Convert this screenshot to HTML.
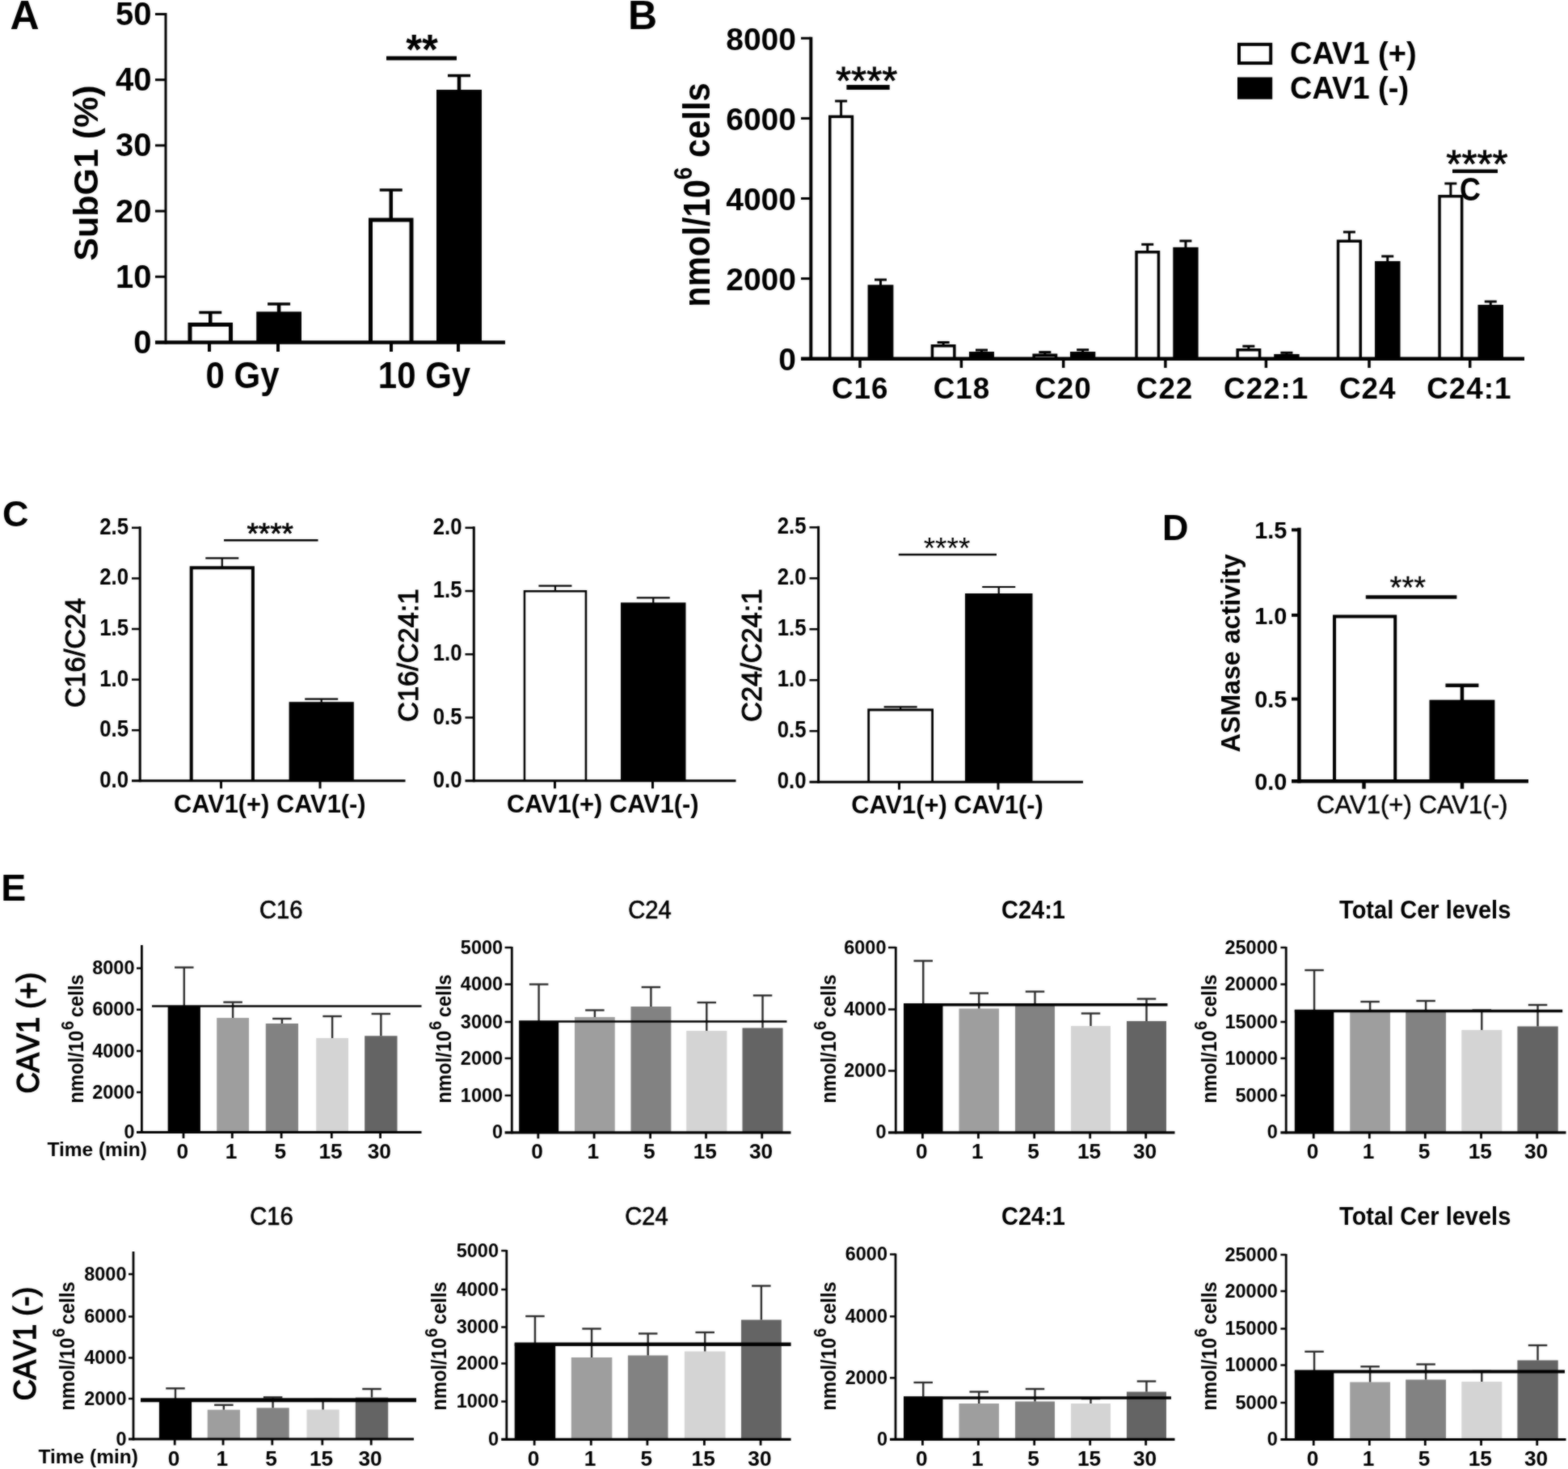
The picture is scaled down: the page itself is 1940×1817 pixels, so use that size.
<!DOCTYPE html>
<html lang="en">
<head>
<meta charset="utf-8">
<title>Figure</title>
<style>
html,body{margin:0;padding:0;background:#fff;}
body{width:1940px;height:1817px;overflow:hidden;}
svg{display:block;font-family:'Liberation Sans', sans-serif;}
</style>
</head>
<body>
<svg width="1940" height="1817" viewBox="0 0 1940 1817" font-family="'Liberation Sans', sans-serif">
<defs><filter id="soft" x="0" y="0" width="1940" height="1817" filterUnits="userSpaceOnUse" color-interpolation-filters="sRGB"><feGaussianBlur in="SourceGraphic" stdDeviation="0.8" result="b"/><feComposite in="SourceGraphic" in2="b" operator="arithmetic" k1="0" k2="0.45" k3="0.55" k4="0"/></filter></defs>
<g filter="url(#soft)">
<rect x="0" y="0" width="1940" height="1817" fill="#ffffff"/>
<text x="12.5" y="36" font-size="50" font-weight="bold" text-anchor="start" fill="#000">A</text>
<text x="777" y="36" font-size="50" font-weight="bold" text-anchor="start" fill="#000">B</text>
<text x="3" y="650.7" font-size="45" font-weight="bold" text-anchor="start" fill="#000">C</text>
<text x="1438" y="668" font-size="45" font-weight="bold" text-anchor="start" fill="#000">D</text>
<text x="1.3" y="1113.6" font-size="46.5" font-weight="bold" text-anchor="start" fill="#000">E</text>
<line x1="260.25" y1="386.5" x2="260.25" y2="401" stroke="#000" stroke-width="4.5" stroke-linecap="butt"/>
<line x1="246.25" y1="386.5" x2="274.25" y2="386.5" stroke="#000" stroke-width="3.5" stroke-linecap="butt"/>
<path d="M235.00 423.5V401.50H285.50V423.5" fill="#fff" stroke="#000" stroke-width="5" stroke-linejoin="miter"/>
<line x1="345.1" y1="376" x2="345.1" y2="387.5" stroke="#000" stroke-width="4.5" stroke-linecap="butt"/>
<line x1="331.1" y1="376" x2="359.1" y2="376" stroke="#000" stroke-width="3.5" stroke-linecap="butt"/>
<rect x="317.2" y="385.5" width="55.80000000000001" height="38.0" fill="#000"/>
<line x1="483.75" y1="235" x2="483.75" y2="271.5" stroke="#000" stroke-width="4.5" stroke-linecap="butt"/>
<line x1="469.75" y1="235" x2="497.75" y2="235" stroke="#000" stroke-width="3.5" stroke-linecap="butt"/>
<path d="M458.50 423.5V272.00H509.00V423.5" fill="#fff" stroke="#000" stroke-width="5" stroke-linejoin="miter"/>
<line x1="568.0" y1="93.5" x2="568.0" y2="113" stroke="#000" stroke-width="4.5" stroke-linecap="butt"/>
<line x1="554.0" y1="93.5" x2="582.0" y2="93.5" stroke="#000" stroke-width="3.5" stroke-linecap="butt"/>
<rect x="540" y="111" width="56" height="312.5" fill="#000"/>
<line x1="205" y1="16.0" x2="205" y2="425.5" stroke="#000" stroke-width="3" stroke-linecap="butt"/>
<line x1="192" y1="423.5" x2="625" y2="423.5" stroke="#000" stroke-width="4.5" stroke-linecap="butt"/>
<line x1="192" y1="17.5" x2="205" y2="17.5" stroke="#000" stroke-width="3" stroke-linecap="butt"/>
<text x="187.5" y="31.0" font-size="40" font-weight="bold" text-anchor="end" fill="#000">50</text>
<line x1="192" y1="98.7" x2="205" y2="98.7" stroke="#000" stroke-width="3" stroke-linecap="butt"/>
<text x="187.5" y="112.2" font-size="40" font-weight="bold" text-anchor="end" fill="#000">40</text>
<line x1="192" y1="179.9" x2="205" y2="179.9" stroke="#000" stroke-width="3" stroke-linecap="butt"/>
<text x="187.5" y="193.4" font-size="40" font-weight="bold" text-anchor="end" fill="#000">30</text>
<line x1="192" y1="261.1" x2="205" y2="261.1" stroke="#000" stroke-width="3" stroke-linecap="butt"/>
<text x="187.5" y="274.6" font-size="40" font-weight="bold" text-anchor="end" fill="#000">20</text>
<line x1="192" y1="342.3" x2="205" y2="342.3" stroke="#000" stroke-width="3" stroke-linecap="butt"/>
<text x="187.5" y="355.8" font-size="40" font-weight="bold" text-anchor="end" fill="#000">10</text>
<text x="187.5" y="437.0" font-size="40" font-weight="bold" text-anchor="end" fill="#000">0</text>
<line x1="259" y1="423.5" x2="259" y2="435" stroke="#000" stroke-width="4" stroke-linecap="butt"/>
<line x1="344" y1="423.5" x2="344" y2="435" stroke="#000" stroke-width="4" stroke-linecap="butt"/>
<line x1="484" y1="423.5" x2="484" y2="435" stroke="#000" stroke-width="4" stroke-linecap="butt"/>
<line x1="567" y1="423.5" x2="567" y2="435" stroke="#000" stroke-width="4" stroke-linecap="butt"/>
<text font-size="42" font-weight="bold" text-anchor="middle" fill="#000" transform="translate(300 480) scale(1 1.1)">0 Gy</text>
<text font-size="42" font-weight="bold" text-anchor="middle" fill="#000" transform="translate(525 480) scale(1 1.1)">10 Gy</text>
<text font-size="43" font-weight="bold" text-anchor="middle" fill="#000" transform="translate(120.5 214) rotate(-90)">SubG1 (%)</text>
<line x1="478" y1="72" x2="565" y2="72" stroke="#000" stroke-width="5" stroke-linecap="butt"/>
<text x="522" y="78.5" font-size="51" font-weight="bold" text-anchor="middle" fill="#000">**</text>
<line x1="1040.6" y1="125" x2="1040.6" y2="143.4" stroke="#000" stroke-width="3" stroke-linecap="butt"/>
<line x1="1033.1" y1="125" x2="1048.1" y2="125" stroke="#000" stroke-width="3" stroke-linecap="butt"/>
<path d="M1026.75 443.7V144.15H1054.45V443.7" fill="#fff" stroke="#000" stroke-width="3.5" stroke-linejoin="miter"/>
<line x1="1089.5" y1="346" x2="1089.5" y2="353.3" stroke="#000" stroke-width="3" stroke-linecap="butt"/>
<line x1="1082.0" y1="346" x2="1097.0" y2="346" stroke="#000" stroke-width="3" stroke-linecap="butt"/>
<rect x="1073.6" y="352.3" width="31.800000000000182" height="91.39999999999998" fill="#000"/>
<line x1="1167.15" y1="423.5" x2="1167.15" y2="427" stroke="#000" stroke-width="3" stroke-linecap="butt"/>
<line x1="1159.65" y1="423.5" x2="1174.65" y2="423.5" stroke="#000" stroke-width="3" stroke-linecap="butt"/>
<path d="M1153.45 443.7V427.75H1180.85V443.7" fill="#fff" stroke="#000" stroke-width="3.5" stroke-linejoin="miter"/>
<line x1="1214.5" y1="433" x2="1214.5" y2="436" stroke="#000" stroke-width="3" stroke-linecap="butt"/>
<line x1="1207.0" y1="433" x2="1222.0" y2="433" stroke="#000" stroke-width="3" stroke-linecap="butt"/>
<rect x="1199" y="435" width="31" height="8.699999999999989" fill="#000"/>
<line x1="1292.85" y1="435.6" x2="1292.85" y2="438.4" stroke="#000" stroke-width="3" stroke-linecap="butt"/>
<line x1="1285.35" y1="435.6" x2="1300.35" y2="435.6" stroke="#000" stroke-width="3" stroke-linecap="butt"/>
<path d="M1279.15 443.7V439.15H1306.55V443.7" fill="#fff" stroke="#000" stroke-width="3.5" stroke-linejoin="miter"/>
<line x1="1339.65" y1="432.7" x2="1339.65" y2="436" stroke="#000" stroke-width="3" stroke-linecap="butt"/>
<line x1="1332.15" y1="432.7" x2="1347.15" y2="432.7" stroke="#000" stroke-width="3" stroke-linecap="butt"/>
<rect x="1324" y="435" width="31.299999999999955" height="8.699999999999989" fill="#000"/>
<line x1="1419.75" y1="302.3" x2="1419.75" y2="311" stroke="#000" stroke-width="3" stroke-linecap="butt"/>
<line x1="1412.25" y1="302.3" x2="1427.25" y2="302.3" stroke="#000" stroke-width="3" stroke-linecap="butt"/>
<path d="M1406.05 443.7V311.75H1433.45V443.7" fill="#fff" stroke="#000" stroke-width="3.5" stroke-linejoin="miter"/>
<line x1="1466.9499999999998" y1="298" x2="1466.9499999999998" y2="306.8" stroke="#000" stroke-width="3" stroke-linecap="butt"/>
<line x1="1459.4499999999998" y1="298" x2="1474.4499999999998" y2="298" stroke="#000" stroke-width="3" stroke-linecap="butt"/>
<rect x="1451.3" y="305.8" width="31.299999999999955" height="137.89999999999998" fill="#000"/>
<line x1="1544.85" y1="428.2" x2="1544.85" y2="432" stroke="#000" stroke-width="3" stroke-linecap="butt"/>
<line x1="1537.35" y1="428.2" x2="1552.35" y2="428.2" stroke="#000" stroke-width="3" stroke-linecap="butt"/>
<path d="M1531.15 443.7V432.75H1558.55V443.7" fill="#fff" stroke="#000" stroke-width="3.5" stroke-linejoin="miter"/>
<line x1="1591.9" y1="436.3" x2="1591.9" y2="439" stroke="#000" stroke-width="3" stroke-linecap="butt"/>
<line x1="1584.4" y1="436.3" x2="1599.4" y2="436.3" stroke="#000" stroke-width="3" stroke-linecap="butt"/>
<rect x="1576.2" y="438" width="31.399999999999864" height="5.699999999999989" fill="#000"/>
<line x1="1669.4" y1="287" x2="1669.4" y2="297.5" stroke="#000" stroke-width="3" stroke-linecap="butt"/>
<line x1="1661.9" y1="287" x2="1676.9" y2="287" stroke="#000" stroke-width="3" stroke-linecap="butt"/>
<path d="M1655.55 443.7V298.25H1683.25V443.7" fill="#fff" stroke="#000" stroke-width="3.5" stroke-linejoin="miter"/>
<line x1="1716.75" y1="317" x2="1716.75" y2="324" stroke="#000" stroke-width="3" stroke-linecap="butt"/>
<line x1="1709.25" y1="317" x2="1724.25" y2="317" stroke="#000" stroke-width="3" stroke-linecap="butt"/>
<rect x="1701" y="323" width="31.5" height="120.69999999999999" fill="#000"/>
<line x1="1794.85" y1="227" x2="1794.85" y2="242" stroke="#000" stroke-width="3" stroke-linecap="butt"/>
<line x1="1787.35" y1="227" x2="1802.35" y2="227" stroke="#000" stroke-width="3" stroke-linecap="butt"/>
<path d="M1781.05 443.7V242.75H1808.65V443.7" fill="#fff" stroke="#000" stroke-width="3.5" stroke-linejoin="miter"/>
<line x1="1844.25" y1="373" x2="1844.25" y2="378" stroke="#000" stroke-width="3" stroke-linecap="butt"/>
<line x1="1836.75" y1="373" x2="1851.75" y2="373" stroke="#000" stroke-width="3" stroke-linecap="butt"/>
<rect x="1828.5" y="377" width="31.5" height="66.69999999999999" fill="#000"/>
<line x1="1003.3" y1="45.8" x2="1003.3" y2="445.7" stroke="#000" stroke-width="4" stroke-linecap="butt"/>
<line x1="991" y1="443.7" x2="1886" y2="443.7" stroke="#000" stroke-width="4.5" stroke-linecap="butt"/>
<line x1="991" y1="47.3" x2="1003.3" y2="47.3" stroke="#000" stroke-width="3" stroke-linecap="butt"/>
<text x="985" y="61.599999999999994" font-size="39" font-weight="bold" text-anchor="end" fill="#000">8000</text>
<line x1="991" y1="146.39999999999998" x2="1003.3" y2="146.39999999999998" stroke="#000" stroke-width="3" stroke-linecap="butt"/>
<text x="985" y="160.7" font-size="39" font-weight="bold" text-anchor="end" fill="#000">6000</text>
<line x1="991" y1="245.5" x2="1003.3" y2="245.5" stroke="#000" stroke-width="3" stroke-linecap="butt"/>
<text x="985" y="259.8" font-size="39" font-weight="bold" text-anchor="end" fill="#000">4000</text>
<line x1="991" y1="344.59999999999997" x2="1003.3" y2="344.59999999999997" stroke="#000" stroke-width="3" stroke-linecap="butt"/>
<text x="985" y="358.9" font-size="39" font-weight="bold" text-anchor="end" fill="#000">2000</text>
<text x="985" y="458.0" font-size="39" font-weight="bold" text-anchor="end" fill="#000">0</text>
<line x1="1064" y1="443.7" x2="1064" y2="455" stroke="#000" stroke-width="3.5" stroke-linecap="butt"/>
<line x1="1189.4" y1="443.7" x2="1189.4" y2="455" stroke="#000" stroke-width="3.5" stroke-linecap="butt"/>
<line x1="1315.7" y1="443.7" x2="1315.7" y2="455" stroke="#000" stroke-width="3.5" stroke-linecap="butt"/>
<line x1="1441.9" y1="443.7" x2="1441.9" y2="455" stroke="#000" stroke-width="3.5" stroke-linecap="butt"/>
<line x1="1566.4" y1="443.7" x2="1566.4" y2="455" stroke="#000" stroke-width="3.5" stroke-linecap="butt"/>
<line x1="1694" y1="443.7" x2="1694" y2="455" stroke="#000" stroke-width="3.5" stroke-linecap="butt"/>
<line x1="1818.7" y1="443.7" x2="1818.7" y2="455" stroke="#000" stroke-width="3.5" stroke-linecap="butt"/>
<text x="1064.3" y="493" font-size="36.8" font-weight="bold" text-anchor="middle" fill="#000" letter-spacing="1">C16</text>
<text x="1189.8999999999999" y="493" font-size="36.8" font-weight="bold" text-anchor="middle" fill="#000" letter-spacing="1">C18</text>
<text x="1315.5" y="493" font-size="36.8" font-weight="bold" text-anchor="middle" fill="#000" letter-spacing="1">C20</text>
<text x="1441.1" y="493" font-size="36.8" font-weight="bold" text-anchor="middle" fill="#000" letter-spacing="1">C22</text>
<text x="1566.6999999999998" y="493" font-size="36.8" font-weight="bold" text-anchor="middle" fill="#000" letter-spacing="1">C22:1</text>
<text x="1692.3" y="493" font-size="36.8" font-weight="bold" text-anchor="middle" fill="#000" letter-spacing="1">C24</text>
<text x="1817.8999999999999" y="493" font-size="36.8" font-weight="bold" text-anchor="middle" fill="#000" letter-spacing="1">C24:1</text>
<text font-size="41.7" font-weight="bold" text-anchor="middle" fill="#000" transform="translate(878 241) rotate(-90) scale(1 1.12)">nmol/10<tspan font-size="28" dy="-20">6</tspan><tspan dy="20"> cells</tspan></text>
<rect x="1533" y="54.9" width="39.2" height="23.2" fill="#fff" stroke="#000" stroke-width="4"/>
<rect x="1531" y="95.5" width="43.2" height="27.2" fill="#000"/>
<text x="1596" y="78.5" font-size="38" font-weight="bold" text-anchor="start" fill="#000">CAV1 (+)</text>
<text x="1596" y="121.5" font-size="38" font-weight="bold" text-anchor="start" fill="#000">CAV1 (-)</text>
<line x1="1047.4" y1="108" x2="1100.7" y2="108" stroke="#000" stroke-width="6" stroke-linecap="butt"/>
<text x="1072.2" y="115.5" font-size="49" font-weight="normal" text-anchor="middle" fill="#000" stroke="#000" stroke-width="0.8">****</text>
<line x1="1797" y1="211.7" x2="1853" y2="211.7" stroke="#000" stroke-width="4.5" stroke-linecap="butt"/>
<text x="1827.5" y="219" font-size="49" font-weight="normal" text-anchor="middle" fill="#000" stroke="#000" stroke-width="0.8">****</text>
<text font-size="36" font-weight="bold" text-anchor="start" fill="#000" transform="translate(1806 248) scale(1 1.15)">C</text>
<line x1="274.79999999999995" y1="690.4" x2="274.79999999999995" y2="701.3" stroke="#000" stroke-width="2.2" stroke-linecap="butt"/>
<line x1="254.29999999999995" y1="690.4" x2="295.29999999999995" y2="690.4" stroke="#000" stroke-width="2.2" stroke-linecap="butt"/>
<path d="M236.70 965.8V702.30H312.90V965.8" fill="#fff" stroke="#000" stroke-width="4" stroke-linejoin="miter"/>
<line x1="397.70000000000005" y1="864.7" x2="397.70000000000005" y2="869.2" stroke="#000" stroke-width="2.2" stroke-linecap="butt"/>
<line x1="377.20000000000005" y1="864.7" x2="418.20000000000005" y2="864.7" stroke="#000" stroke-width="2.2" stroke-linecap="butt"/>
<rect x="357.6" y="868.2" width="80.19999999999999" height="97.59999999999991" fill="#000"/>
<line x1="173.2" y1="651.3" x2="173.2" y2="967.3" stroke="#000" stroke-width="3" stroke-linecap="butt"/>
<line x1="163" y1="965.8" x2="501.5" y2="965.8" stroke="#000" stroke-width="3" stroke-linecap="butt"/>
<line x1="163" y1="652.8" x2="173.2" y2="652.8" stroke="#000" stroke-width="2.5" stroke-linecap="butt"/>
<text font-size="30.3" font-weight="bold" text-anchor="end" fill="#000" transform="translate(159 660.8) scale(0.85 1)">2.5</text>
<line x1="163" y1="715.4" x2="173.2" y2="715.4" stroke="#000" stroke-width="2.5" stroke-linecap="butt"/>
<text font-size="30.3" font-weight="bold" text-anchor="end" fill="#000" transform="translate(159 723.4) scale(0.85 1)">2.0</text>
<line x1="163" y1="778.0" x2="173.2" y2="778.0" stroke="#000" stroke-width="2.5" stroke-linecap="butt"/>
<text font-size="30.3" font-weight="bold" text-anchor="end" fill="#000" transform="translate(159 786.0) scale(0.85 1)">1.5</text>
<line x1="163" y1="840.5999999999999" x2="173.2" y2="840.5999999999999" stroke="#000" stroke-width="2.5" stroke-linecap="butt"/>
<text font-size="30.3" font-weight="bold" text-anchor="end" fill="#000" transform="translate(159 848.5999999999999) scale(0.85 1)">1.0</text>
<line x1="163" y1="903.1999999999999" x2="173.2" y2="903.1999999999999" stroke="#000" stroke-width="2.5" stroke-linecap="butt"/>
<text font-size="30.3" font-weight="bold" text-anchor="end" fill="#000" transform="translate(159 911.1999999999999) scale(0.85 1)">0.5</text>
<text font-size="30.3" font-weight="bold" text-anchor="end" fill="#000" transform="translate(159 973.8) scale(0.85 1)">0.0</text>
<line x1="273.5" y1="965.8" x2="273.5" y2="975.3" stroke="#000" stroke-width="3" stroke-linecap="butt"/>
<line x1="396" y1="965.8" x2="396" y2="975.3" stroke="#000" stroke-width="3" stroke-linecap="butt"/>
<text x="215" y="1005" font-size="30.8" font-weight="bold" text-anchor="start" fill="#000">CAV1(+) CAV1(-)</text>
<text font-size="34.4" font-weight="normal" text-anchor="middle" fill="#000" transform="translate(105 807.5) rotate(-90)" stroke="#000" stroke-width="1.0">C16/C24</text>
<line x1="277" y1="668.2" x2="393.5" y2="668.2" stroke="#000" stroke-width="2.6" stroke-linecap="butt"/>
<text x="334.2" y="673" font-size="37" font-weight="normal" text-anchor="middle" fill="#000" stroke="#000" stroke-width="0.7">****</text>
<line x1="686.95" y1="724.7" x2="686.95" y2="731" stroke="#000" stroke-width="2.2" stroke-linecap="butt"/>
<line x1="666.45" y1="724.7" x2="707.45" y2="724.7" stroke="#000" stroke-width="2.2" stroke-linecap="butt"/>
<path d="M648.95 965.8V731.25H724.95V965.8" fill="#fff" stroke="#000" stroke-width="2.5" stroke-linejoin="miter"/>
<line x1="808.25" y1="739.3" x2="808.25" y2="746.3" stroke="#000" stroke-width="2.2" stroke-linecap="butt"/>
<line x1="787.75" y1="739.3" x2="828.75" y2="739.3" stroke="#000" stroke-width="2.2" stroke-linecap="butt"/>
<rect x="768" y="745.3" width="80.5" height="220.5" fill="#000"/>
<line x1="586.3" y1="651.3" x2="586.3" y2="967.3" stroke="#000" stroke-width="3" stroke-linecap="butt"/>
<line x1="575.5" y1="965.8" x2="910.5" y2="965.8" stroke="#000" stroke-width="3" stroke-linecap="butt"/>
<line x1="575.5" y1="652.8" x2="586.3" y2="652.8" stroke="#000" stroke-width="2.5" stroke-linecap="butt"/>
<text font-size="30.3" font-weight="bold" text-anchor="end" fill="#000" transform="translate(571.5 660.8) scale(0.85 1)">2.0</text>
<line x1="575.5" y1="731.05" x2="586.3" y2="731.05" stroke="#000" stroke-width="2.5" stroke-linecap="butt"/>
<text font-size="30.3" font-weight="bold" text-anchor="end" fill="#000" transform="translate(571.5 739.05) scale(0.85 1)">1.5</text>
<line x1="575.5" y1="809.3" x2="586.3" y2="809.3" stroke="#000" stroke-width="2.5" stroke-linecap="butt"/>
<text font-size="30.3" font-weight="bold" text-anchor="end" fill="#000" transform="translate(571.5 817.3) scale(0.85 1)">1.0</text>
<line x1="575.5" y1="887.55" x2="586.3" y2="887.55" stroke="#000" stroke-width="2.5" stroke-linecap="butt"/>
<text font-size="30.3" font-weight="bold" text-anchor="end" fill="#000" transform="translate(571.5 895.55) scale(0.85 1)">0.5</text>
<text font-size="30.3" font-weight="bold" text-anchor="end" fill="#000" transform="translate(571.5 973.8) scale(0.85 1)">0.0</text>
<line x1="686.5" y1="965.8" x2="686.5" y2="975.3" stroke="#000" stroke-width="3" stroke-linecap="butt"/>
<line x1="807.5" y1="965.8" x2="807.5" y2="975.3" stroke="#000" stroke-width="3" stroke-linecap="butt"/>
<text x="627" y="1005" font-size="30.8" font-weight="bold" text-anchor="start" fill="#000">CAV1(+) CAV1(-)</text>
<text font-size="34.4" font-weight="normal" text-anchor="middle" fill="#000" transform="translate(517 810.7) rotate(-90)" stroke="#000" stroke-width="1.0">C16/C24:1</text>
<line x1="1114.15" y1="874.3" x2="1114.15" y2="877.6" stroke="#000" stroke-width="2.2" stroke-linecap="butt"/>
<line x1="1093.65" y1="874.3" x2="1134.65" y2="874.3" stroke="#000" stroke-width="2.2" stroke-linecap="butt"/>
<path d="M1074.70 967.2V878.00H1153.60V967.2" fill="#fff" stroke="#000" stroke-width="2.8" stroke-linejoin="miter"/>
<line x1="1235.75" y1="726" x2="1235.75" y2="735" stroke="#000" stroke-width="2.2" stroke-linecap="butt"/>
<line x1="1215.25" y1="726" x2="1256.25" y2="726" stroke="#000" stroke-width="2.2" stroke-linecap="butt"/>
<rect x="1194" y="734" width="83.5" height="233.20000000000005" fill="#000"/>
<line x1="1012.6" y1="650.8" x2="1012.6" y2="968.7" stroke="#000" stroke-width="3" stroke-linecap="butt"/>
<line x1="1001.5" y1="967.2" x2="1340" y2="967.2" stroke="#000" stroke-width="3" stroke-linecap="butt"/>
<line x1="1001.5" y1="652.3" x2="1012.6" y2="652.3" stroke="#000" stroke-width="2.5" stroke-linecap="butt"/>
<text font-size="30.3" font-weight="bold" text-anchor="end" fill="#000" transform="translate(997.5 660.3) scale(0.85 1)">2.5</text>
<line x1="1001.5" y1="715.28" x2="1012.6" y2="715.28" stroke="#000" stroke-width="2.5" stroke-linecap="butt"/>
<text font-size="30.3" font-weight="bold" text-anchor="end" fill="#000" transform="translate(997.5 723.28) scale(0.85 1)">2.0</text>
<line x1="1001.5" y1="778.26" x2="1012.6" y2="778.26" stroke="#000" stroke-width="2.5" stroke-linecap="butt"/>
<text font-size="30.3" font-weight="bold" text-anchor="end" fill="#000" transform="translate(997.5 786.26) scale(0.85 1)">1.5</text>
<line x1="1001.5" y1="841.24" x2="1012.6" y2="841.24" stroke="#000" stroke-width="2.5" stroke-linecap="butt"/>
<text font-size="30.3" font-weight="bold" text-anchor="end" fill="#000" transform="translate(997.5 849.24) scale(0.85 1)">1.0</text>
<line x1="1001.5" y1="904.22" x2="1012.6" y2="904.22" stroke="#000" stroke-width="2.5" stroke-linecap="butt"/>
<text font-size="30.3" font-weight="bold" text-anchor="end" fill="#000" transform="translate(997.5 912.22) scale(0.85 1)">0.5</text>
<text font-size="30.3" font-weight="bold" text-anchor="end" fill="#000" transform="translate(997.5 975.2) scale(0.85 1)">0.0</text>
<line x1="1112.5" y1="967.2" x2="1112.5" y2="976.7" stroke="#000" stroke-width="3" stroke-linecap="butt"/>
<line x1="1235" y1="967.2" x2="1235" y2="976.7" stroke="#000" stroke-width="3" stroke-linecap="butt"/>
<text x="1053.3" y="1006" font-size="30.8" font-weight="bold" text-anchor="start" fill="#000">CAV1(+) CAV1(-)</text>
<text font-size="34.4" font-weight="normal" text-anchor="middle" fill="#000" transform="translate(941.5 810.7) rotate(-90)" stroke="#000" stroke-width="1.0">C24/C24:1</text>
<line x1="1111.8" y1="686" x2="1233" y2="686" stroke="#000" stroke-width="2.6" stroke-linecap="butt"/>
<text x="1171.5" y="691" font-size="37" font-weight="normal" text-anchor="middle" fill="#000">****</text>
<path d="M1651.00 966.2V762.50H1726.20V966.2" fill="#fff" stroke="#000" stroke-width="4" stroke-linejoin="miter"/>
<line x1="1808.95" y1="847.7" x2="1808.95" y2="866.7" stroke="#000" stroke-width="4.5" stroke-linecap="butt"/>
<line x1="1788.45" y1="847.7" x2="1829.45" y2="847.7" stroke="#000" stroke-width="4.5" stroke-linecap="butt"/>
<rect x="1768.5" y="865.7" width="80.90000000000009" height="100.5" fill="#000"/>
<line x1="1607.4" y1="652.75" x2="1607.4" y2="968.45" stroke="#000" stroke-width="4.5" stroke-linecap="butt"/>
<line x1="1598" y1="966.2" x2="1891" y2="966.2" stroke="#000" stroke-width="4.5" stroke-linecap="butt"/>
<line x1="1598" y1="655.4" x2="1607.4" y2="655.4" stroke="#000" stroke-width="4.0" stroke-linecap="butt"/>
<text x="1592.3" y="666.0" font-size="28.8" font-weight="bold" text-anchor="end" fill="#000">1.5</text>
<line x1="1598" y1="760.9" x2="1607.4" y2="760.9" stroke="#000" stroke-width="4.0" stroke-linecap="butt"/>
<text x="1592.3" y="771.5" font-size="28.8" font-weight="bold" text-anchor="end" fill="#000">1.0</text>
<line x1="1598" y1="864.6" x2="1607.4" y2="864.6" stroke="#000" stroke-width="4.0" stroke-linecap="butt"/>
<text x="1592.3" y="875.2" font-size="28.8" font-weight="bold" text-anchor="end" fill="#000">0.5</text>
<text x="1592.3" y="976.8000000000001" font-size="28.8" font-weight="bold" text-anchor="end" fill="#000">0.0</text>
<line x1="1687.5" y1="966.2" x2="1687.5" y2="975.7" stroke="#000" stroke-width="4.5" stroke-linecap="butt"/>
<line x1="1809" y1="966.2" x2="1809" y2="975.7" stroke="#000" stroke-width="4.5" stroke-linecap="butt"/>
<text x="1629" y="1006" font-size="31.1" font-weight="normal" text-anchor="start" fill="#000" stroke="#000" stroke-width="0.5">CAV1(+) CAV1(-)</text>
<text font-size="32.2" font-weight="bold" text-anchor="middle" fill="#000" transform="translate(1534.4 808) rotate(-90) scale(1 1.03)">ASMase activity</text>
<line x1="1689.8" y1="738.5" x2="1802.4" y2="738.5" stroke="#000" stroke-width="4.5" stroke-linecap="butt"/>
<text x="1741.8" y="739.7" font-size="38" font-weight="normal" text-anchor="middle" fill="#000" stroke="#000" stroke-width="0.3">***</text>
<rect x="207.7" y="1244" width="40.20000000000002" height="156.5" fill="#000000"/>
<rect x="268.2" y="1259" width="39.80000000000001" height="141.5" fill="#9e9e9e"/>
<rect x="328.8" y="1266" width="40.19999999999999" height="134.5" fill="#828282"/>
<rect x="391.2" y="1284" width="39.80000000000001" height="116.5" fill="#d4d4d4"/>
<rect x="451.2" y="1281.3" width="40.30000000000001" height="119.20000000000005" fill="#646464"/>
<line x1="227.8" y1="1196.6" x2="227.8" y2="1244" stroke="#2a2a2a" stroke-width="2.4" stroke-linecap="butt"/>
<line x1="216.05" y1="1196.6" x2="239.55" y2="1196.6" stroke="#2a2a2a" stroke-width="2.4" stroke-linecap="butt"/>
<line x1="288.1" y1="1239.6" x2="288.1" y2="1259" stroke="#2a2a2a" stroke-width="2.4" stroke-linecap="butt"/>
<line x1="276.35" y1="1239.6" x2="299.85" y2="1239.6" stroke="#2a2a2a" stroke-width="2.4" stroke-linecap="butt"/>
<line x1="348.9" y1="1260" x2="348.9" y2="1266" stroke="#2a2a2a" stroke-width="2.4" stroke-linecap="butt"/>
<line x1="337.15" y1="1260" x2="360.65" y2="1260" stroke="#2a2a2a" stroke-width="2.4" stroke-linecap="butt"/>
<line x1="411.1" y1="1257" x2="411.1" y2="1284" stroke="#2a2a2a" stroke-width="2.4" stroke-linecap="butt"/>
<line x1="399.35" y1="1257" x2="422.85" y2="1257" stroke="#2a2a2a" stroke-width="2.4" stroke-linecap="butt"/>
<line x1="471.35" y1="1254" x2="471.35" y2="1281.3" stroke="#2a2a2a" stroke-width="2.4" stroke-linecap="butt"/>
<line x1="459.6" y1="1254" x2="483.1" y2="1254" stroke="#2a2a2a" stroke-width="2.4" stroke-linecap="butt"/>
<line x1="175.4" y1="1169" x2="175.4" y2="1402.0" stroke="#000" stroke-width="2.8" stroke-linecap="butt"/>
<line x1="169" y1="1400.5" x2="521.5" y2="1400.5" stroke="#000" stroke-width="3.2" stroke-linecap="butt"/>
<line x1="169" y1="1197.6" x2="175.4" y2="1197.6" stroke="#000" stroke-width="2.5" stroke-linecap="butt"/>
<text x="166.5" y="1205.1999999999998" font-size="23.5" font-weight="bold" text-anchor="end" fill="#000">8000</text>
<line x1="169" y1="1248.8" x2="175.4" y2="1248.8" stroke="#000" stroke-width="2.5" stroke-linecap="butt"/>
<text x="166.5" y="1256.3999999999999" font-size="23.5" font-weight="bold" text-anchor="end" fill="#000">6000</text>
<line x1="169" y1="1300" x2="175.4" y2="1300" stroke="#000" stroke-width="2.5" stroke-linecap="butt"/>
<text x="166.5" y="1307.6" font-size="23.5" font-weight="bold" text-anchor="end" fill="#000">4000</text>
<line x1="169" y1="1351" x2="175.4" y2="1351" stroke="#000" stroke-width="2.5" stroke-linecap="butt"/>
<text x="166.5" y="1358.6" font-size="23.5" font-weight="bold" text-anchor="end" fill="#000">2000</text>
<text x="166.5" y="1408.1" font-size="23.5" font-weight="bold" text-anchor="end" fill="#000">0</text>
<line x1="188" y1="1244.5" x2="521.5" y2="1244.5" stroke="#000" stroke-width="2.5" stroke-linecap="butt"/>
<line x1="227.0" y1="1400.5" x2="227.0" y2="1408.0" stroke="#000" stroke-width="2.8" stroke-linecap="butt"/>
<line x1="287.3" y1="1400.5" x2="287.3" y2="1408.0" stroke="#000" stroke-width="2.8" stroke-linecap="butt"/>
<line x1="348.09999999999997" y1="1400.5" x2="348.09999999999997" y2="1408.0" stroke="#000" stroke-width="2.8" stroke-linecap="butt"/>
<line x1="410.3" y1="1400.5" x2="410.3" y2="1408.0" stroke="#000" stroke-width="2.8" stroke-linecap="butt"/>
<line x1="470.55" y1="1400.5" x2="470.55" y2="1408.0" stroke="#000" stroke-width="2.8" stroke-linecap="butt"/>
<text font-size="25.5" font-weight="bold" text-anchor="middle" fill="#000" transform="translate(225.8 1432.8) scale(1.03 1)">0</text>
<text font-size="25.5" font-weight="bold" text-anchor="middle" fill="#000" transform="translate(286.1 1432.8) scale(1.03 1)">1</text>
<text font-size="25.5" font-weight="bold" text-anchor="middle" fill="#000" transform="translate(346.9 1432.8) scale(1.03 1)">5</text>
<text font-size="25.5" font-weight="bold" text-anchor="middle" fill="#000" transform="translate(409.1 1432.8) scale(1.03 1)">15</text>
<text font-size="25.5" font-weight="bold" text-anchor="middle" fill="#000" transform="translate(469.35 1432.8) scale(1.03 1)">30</text>
<text font-size="31.2" font-weight="normal" text-anchor="middle" fill="#000" transform="translate(347.8 1136.4) scale(0.935 1)" stroke="#000" stroke-width="0.7">C16</text>
<text font-size="23.8" font-weight="bold" text-anchor="middle" fill="#000" transform="translate(103 1285) rotate(-90) scale(1 1.12)">nmol/10<tspan font-size="20" dx="1" dy="-10.5">6</tspan><tspan dx="-2" dy="10.5"> cells</tspan></text>
<text x="58.4" y="1430.1" font-size="24.5" font-weight="bold" text-anchor="start" fill="#000">Time (min)</text>
<rect x="642.1" y="1263" width="49.10000000000002" height="137.79999999999995" fill="#000000"/>
<rect x="711" y="1258" width="49.799999999999955" height="142.79999999999995" fill="#9e9e9e"/>
<rect x="780.5" y="1245" width="49.799999999999955" height="155.79999999999995" fill="#828282"/>
<rect x="849.2" y="1275" width="50.19999999999993" height="125.79999999999995" fill="#d4d4d4"/>
<rect x="918.5" y="1271.5" width="50.10000000000002" height="129.29999999999995" fill="#646464"/>
<line x1="666.6500000000001" y1="1217.5" x2="666.6500000000001" y2="1263" stroke="#2a2a2a" stroke-width="2.4" stroke-linecap="butt"/>
<line x1="654.9000000000001" y1="1217.5" x2="678.4000000000001" y2="1217.5" stroke="#2a2a2a" stroke-width="2.4" stroke-linecap="butt"/>
<line x1="735.9" y1="1249.5" x2="735.9" y2="1258" stroke="#2a2a2a" stroke-width="2.4" stroke-linecap="butt"/>
<line x1="724.15" y1="1249.5" x2="747.65" y2="1249.5" stroke="#2a2a2a" stroke-width="2.4" stroke-linecap="butt"/>
<line x1="805.4" y1="1221" x2="805.4" y2="1245" stroke="#2a2a2a" stroke-width="2.4" stroke-linecap="butt"/>
<line x1="793.65" y1="1221" x2="817.15" y2="1221" stroke="#2a2a2a" stroke-width="2.4" stroke-linecap="butt"/>
<line x1="874.3" y1="1240" x2="874.3" y2="1275" stroke="#2a2a2a" stroke-width="2.4" stroke-linecap="butt"/>
<line x1="862.55" y1="1240" x2="886.05" y2="1240" stroke="#2a2a2a" stroke-width="2.4" stroke-linecap="butt"/>
<line x1="943.55" y1="1231.3" x2="943.55" y2="1271.5" stroke="#2a2a2a" stroke-width="2.4" stroke-linecap="butt"/>
<line x1="931.8" y1="1231.3" x2="955.3" y2="1231.3" stroke="#2a2a2a" stroke-width="2.4" stroke-linecap="butt"/>
<line x1="633.3" y1="1171" x2="633.3" y2="1402.3" stroke="#000" stroke-width="2.8" stroke-linecap="butt"/>
<line x1="624.6" y1="1400.8" x2="978.5" y2="1400.8" stroke="#000" stroke-width="3.2" stroke-linecap="butt"/>
<line x1="624.6" y1="1172" x2="633.3" y2="1172" stroke="#000" stroke-width="2.5" stroke-linecap="butt"/>
<text x="622.1" y="1179.6" font-size="23.5" font-weight="bold" text-anchor="end" fill="#000">5000</text>
<line x1="624.6" y1="1217.5" x2="633.3" y2="1217.5" stroke="#000" stroke-width="2.5" stroke-linecap="butt"/>
<text x="622.1" y="1225.1" font-size="23.5" font-weight="bold" text-anchor="end" fill="#000">4000</text>
<line x1="624.6" y1="1264" x2="633.3" y2="1264" stroke="#000" stroke-width="2.5" stroke-linecap="butt"/>
<text x="622.1" y="1271.6" font-size="23.5" font-weight="bold" text-anchor="end" fill="#000">3000</text>
<line x1="624.6" y1="1309" x2="633.3" y2="1309" stroke="#000" stroke-width="2.5" stroke-linecap="butt"/>
<text x="622.1" y="1316.6" font-size="23.5" font-weight="bold" text-anchor="end" fill="#000">2000</text>
<line x1="624.6" y1="1355" x2="633.3" y2="1355" stroke="#000" stroke-width="2.5" stroke-linecap="butt"/>
<text x="622.1" y="1362.6" font-size="23.5" font-weight="bold" text-anchor="end" fill="#000">1000</text>
<text x="622.1" y="1408.3999999999999" font-size="23.5" font-weight="bold" text-anchor="end" fill="#000">0</text>
<line x1="642.1" y1="1263.5" x2="973.5" y2="1263.5" stroke="#000" stroke-width="2.5" stroke-linecap="butt"/>
<line x1="665.8500000000001" y1="1400.8" x2="665.8500000000001" y2="1408.3" stroke="#000" stroke-width="2.8" stroke-linecap="butt"/>
<line x1="735.1" y1="1400.8" x2="735.1" y2="1408.3" stroke="#000" stroke-width="2.8" stroke-linecap="butt"/>
<line x1="804.6" y1="1400.8" x2="804.6" y2="1408.3" stroke="#000" stroke-width="2.8" stroke-linecap="butt"/>
<line x1="873.5" y1="1400.8" x2="873.5" y2="1408.3" stroke="#000" stroke-width="2.8" stroke-linecap="butt"/>
<line x1="942.75" y1="1400.8" x2="942.75" y2="1408.3" stroke="#000" stroke-width="2.8" stroke-linecap="butt"/>
<text font-size="25.5" font-weight="bold" text-anchor="middle" fill="#000" transform="translate(664.6500000000001 1432.8) scale(1.03 1)">0</text>
<text font-size="25.5" font-weight="bold" text-anchor="middle" fill="#000" transform="translate(733.9 1432.8) scale(1.03 1)">1</text>
<text font-size="25.5" font-weight="bold" text-anchor="middle" fill="#000" transform="translate(803.4 1432.8) scale(1.03 1)">5</text>
<text font-size="25.5" font-weight="bold" text-anchor="middle" fill="#000" transform="translate(872.3 1432.8) scale(1.03 1)">15</text>
<text font-size="25.5" font-weight="bold" text-anchor="middle" fill="#000" transform="translate(941.55 1432.8) scale(1.03 1)">30</text>
<text font-size="31.2" font-weight="normal" text-anchor="middle" fill="#000" transform="translate(804 1136.4) scale(0.935 1)" stroke="#000" stroke-width="0.7">C24</text>
<text font-size="23.8" font-weight="bold" text-anchor="middle" fill="#000" transform="translate(558 1285) rotate(-90) scale(1 1.12)">nmol/10<tspan font-size="20" dx="1" dy="-10.5">6</tspan><tspan dx="-2" dy="10.5"> cells</tspan></text>
<rect x="1118" y="1241.5" width="48.5" height="159.29999999999995" fill="#000000"/>
<rect x="1186.5" y="1247.5" width="49.5" height="153.29999999999995" fill="#9e9e9e"/>
<rect x="1256" y="1244" width="49" height="156.79999999999995" fill="#828282"/>
<rect x="1325" y="1269" width="49" height="131.79999999999995" fill="#d4d4d4"/>
<rect x="1394" y="1263" width="49" height="137.79999999999995" fill="#646464"/>
<line x1="1142.25" y1="1188.5" x2="1142.25" y2="1241.5" stroke="#2a2a2a" stroke-width="2.4" stroke-linecap="butt"/>
<line x1="1130.5" y1="1188.5" x2="1154.0" y2="1188.5" stroke="#2a2a2a" stroke-width="2.4" stroke-linecap="butt"/>
<line x1="1211.25" y1="1228.5" x2="1211.25" y2="1247.5" stroke="#2a2a2a" stroke-width="2.4" stroke-linecap="butt"/>
<line x1="1199.5" y1="1228.5" x2="1223.0" y2="1228.5" stroke="#2a2a2a" stroke-width="2.4" stroke-linecap="butt"/>
<line x1="1280.5" y1="1226.5" x2="1280.5" y2="1244" stroke="#2a2a2a" stroke-width="2.4" stroke-linecap="butt"/>
<line x1="1268.75" y1="1226.5" x2="1292.25" y2="1226.5" stroke="#2a2a2a" stroke-width="2.4" stroke-linecap="butt"/>
<line x1="1349.5" y1="1253.5" x2="1349.5" y2="1269" stroke="#2a2a2a" stroke-width="2.4" stroke-linecap="butt"/>
<line x1="1337.75" y1="1253.5" x2="1361.25" y2="1253.5" stroke="#2a2a2a" stroke-width="2.4" stroke-linecap="butt"/>
<line x1="1418.5" y1="1235.5" x2="1418.5" y2="1263" stroke="#2a2a2a" stroke-width="2.4" stroke-linecap="butt"/>
<line x1="1406.75" y1="1235.5" x2="1430.25" y2="1235.5" stroke="#2a2a2a" stroke-width="2.4" stroke-linecap="butt"/>
<line x1="1108.3" y1="1171" x2="1108.3" y2="1402.3" stroke="#000" stroke-width="2.8" stroke-linecap="butt"/>
<line x1="1099" y1="1400.8" x2="1453.5" y2="1400.8" stroke="#000" stroke-width="3.2" stroke-linecap="butt"/>
<line x1="1099" y1="1172" x2="1108.3" y2="1172" stroke="#000" stroke-width="2.5" stroke-linecap="butt"/>
<text x="1096.5" y="1179.6" font-size="23.5" font-weight="bold" text-anchor="end" fill="#000">6000</text>
<line x1="1099" y1="1248.5" x2="1108.3" y2="1248.5" stroke="#000" stroke-width="2.5" stroke-linecap="butt"/>
<text x="1096.5" y="1256.1" font-size="23.5" font-weight="bold" text-anchor="end" fill="#000">4000</text>
<line x1="1099" y1="1324.5" x2="1108.3" y2="1324.5" stroke="#000" stroke-width="2.5" stroke-linecap="butt"/>
<text x="1096.5" y="1332.1" font-size="23.5" font-weight="bold" text-anchor="end" fill="#000">2000</text>
<text x="1096.5" y="1408.3999999999999" font-size="23.5" font-weight="bold" text-anchor="end" fill="#000">0</text>
<line x1="1118" y1="1242.7" x2="1444.5" y2="1242.7" stroke="#000" stroke-width="3.5" stroke-linecap="butt"/>
<line x1="1141.45" y1="1400.8" x2="1141.45" y2="1408.3" stroke="#000" stroke-width="2.8" stroke-linecap="butt"/>
<line x1="1210.45" y1="1400.8" x2="1210.45" y2="1408.3" stroke="#000" stroke-width="2.8" stroke-linecap="butt"/>
<line x1="1279.7" y1="1400.8" x2="1279.7" y2="1408.3" stroke="#000" stroke-width="2.8" stroke-linecap="butt"/>
<line x1="1348.7" y1="1400.8" x2="1348.7" y2="1408.3" stroke="#000" stroke-width="2.8" stroke-linecap="butt"/>
<line x1="1417.7" y1="1400.8" x2="1417.7" y2="1408.3" stroke="#000" stroke-width="2.8" stroke-linecap="butt"/>
<text font-size="25.5" font-weight="bold" text-anchor="middle" fill="#000" transform="translate(1140.25 1432.8) scale(1.03 1)">0</text>
<text font-size="25.5" font-weight="bold" text-anchor="middle" fill="#000" transform="translate(1209.25 1432.8) scale(1.03 1)">1</text>
<text font-size="25.5" font-weight="bold" text-anchor="middle" fill="#000" transform="translate(1278.5 1432.8) scale(1.03 1)">5</text>
<text font-size="25.5" font-weight="bold" text-anchor="middle" fill="#000" transform="translate(1347.5 1432.8) scale(1.03 1)">15</text>
<text font-size="25.5" font-weight="bold" text-anchor="middle" fill="#000" transform="translate(1416.5 1432.8) scale(1.03 1)">30</text>
<text font-size="31.2" font-weight="bold" text-anchor="middle" fill="#000" transform="translate(1278.5 1136.4) scale(0.93 1)">C24:1</text>
<text font-size="23.8" font-weight="bold" text-anchor="middle" fill="#000" transform="translate(1033.5 1285) rotate(-90) scale(1 1.12)">nmol/10<tspan font-size="20" dx="1" dy="-10.5">6</tspan><tspan dx="-2" dy="10.5"> cells</tspan></text>
<rect x="1601.8" y="1249" width="48.5" height="151.79999999999995" fill="#000000"/>
<rect x="1670.2" y="1251.5" width="49.799999999999955" height="149.29999999999995" fill="#9e9e9e"/>
<rect x="1739.2" y="1249.5" width="49.799999999999955" height="151.29999999999995" fill="#828282"/>
<rect x="1808.3" y="1274" width="50.0" height="126.79999999999995" fill="#d4d4d4"/>
<rect x="1877.4" y="1269.5" width="50.299999999999955" height="131.29999999999995" fill="#646464"/>
<line x1="1626.05" y1="1200" x2="1626.05" y2="1249" stroke="#2a2a2a" stroke-width="2.4" stroke-linecap="butt"/>
<line x1="1614.3" y1="1200" x2="1637.8" y2="1200" stroke="#2a2a2a" stroke-width="2.4" stroke-linecap="butt"/>
<line x1="1695.1" y1="1239" x2="1695.1" y2="1251.5" stroke="#2a2a2a" stroke-width="2.4" stroke-linecap="butt"/>
<line x1="1683.35" y1="1239" x2="1706.85" y2="1239" stroke="#2a2a2a" stroke-width="2.4" stroke-linecap="butt"/>
<line x1="1764.1" y1="1238" x2="1764.1" y2="1249.5" stroke="#2a2a2a" stroke-width="2.4" stroke-linecap="butt"/>
<line x1="1752.35" y1="1238" x2="1775.85" y2="1238" stroke="#2a2a2a" stroke-width="2.4" stroke-linecap="butt"/>
<line x1="1833.3" y1="1249.5" x2="1833.3" y2="1274" stroke="#2a2a2a" stroke-width="2.4" stroke-linecap="butt"/>
<line x1="1821.55" y1="1249.5" x2="1845.05" y2="1249.5" stroke="#2a2a2a" stroke-width="2.4" stroke-linecap="butt"/>
<line x1="1902.5500000000002" y1="1243" x2="1902.5500000000002" y2="1269.5" stroke="#2a2a2a" stroke-width="2.4" stroke-linecap="butt"/>
<line x1="1890.8000000000002" y1="1243" x2="1914.3000000000002" y2="1243" stroke="#2a2a2a" stroke-width="2.4" stroke-linecap="butt"/>
<line x1="1591.2" y1="1171" x2="1591.2" y2="1402.3" stroke="#000" stroke-width="2.8" stroke-linecap="butt"/>
<line x1="1584.4" y1="1400.8" x2="1937.5" y2="1400.8" stroke="#000" stroke-width="3.2" stroke-linecap="butt"/>
<line x1="1584.4" y1="1172" x2="1591.2" y2="1172" stroke="#000" stroke-width="2.5" stroke-linecap="butt"/>
<text x="1580.8" y="1179.6" font-size="23.5" font-weight="bold" text-anchor="end" fill="#000">25000</text>
<line x1="1584.4" y1="1217.5" x2="1591.2" y2="1217.5" stroke="#000" stroke-width="2.5" stroke-linecap="butt"/>
<text x="1580.8" y="1225.1" font-size="23.5" font-weight="bold" text-anchor="end" fill="#000">20000</text>
<line x1="1584.4" y1="1264" x2="1591.2" y2="1264" stroke="#000" stroke-width="2.5" stroke-linecap="butt"/>
<text x="1580.8" y="1271.6" font-size="23.5" font-weight="bold" text-anchor="end" fill="#000">15000</text>
<line x1="1584.4" y1="1309" x2="1591.2" y2="1309" stroke="#000" stroke-width="2.5" stroke-linecap="butt"/>
<text x="1580.8" y="1316.6" font-size="23.5" font-weight="bold" text-anchor="end" fill="#000">10000</text>
<line x1="1584.4" y1="1355" x2="1591.2" y2="1355" stroke="#000" stroke-width="2.5" stroke-linecap="butt"/>
<text x="1580.8" y="1362.6" font-size="23.5" font-weight="bold" text-anchor="end" fill="#000">5000</text>
<text x="1580.8" y="1408.3999999999999" font-size="23.5" font-weight="bold" text-anchor="end" fill="#000">0</text>
<line x1="1601.8" y1="1250.5" x2="1933.2" y2="1250.5" stroke="#000" stroke-width="3.5" stroke-linecap="butt"/>
<line x1="1625.25" y1="1400.8" x2="1625.25" y2="1408.3" stroke="#000" stroke-width="2.8" stroke-linecap="butt"/>
<line x1="1694.3" y1="1400.8" x2="1694.3" y2="1408.3" stroke="#000" stroke-width="2.8" stroke-linecap="butt"/>
<line x1="1763.3" y1="1400.8" x2="1763.3" y2="1408.3" stroke="#000" stroke-width="2.8" stroke-linecap="butt"/>
<line x1="1832.5" y1="1400.8" x2="1832.5" y2="1408.3" stroke="#000" stroke-width="2.8" stroke-linecap="butt"/>
<line x1="1901.7500000000002" y1="1400.8" x2="1901.7500000000002" y2="1408.3" stroke="#000" stroke-width="2.8" stroke-linecap="butt"/>
<text font-size="25.5" font-weight="bold" text-anchor="middle" fill="#000" transform="translate(1624.05 1432.8) scale(1.03 1)">0</text>
<text font-size="25.5" font-weight="bold" text-anchor="middle" fill="#000" transform="translate(1693.1 1432.8) scale(1.03 1)">1</text>
<text font-size="25.5" font-weight="bold" text-anchor="middle" fill="#000" transform="translate(1762.1 1432.8) scale(1.03 1)">5</text>
<text font-size="25.5" font-weight="bold" text-anchor="middle" fill="#000" transform="translate(1831.3 1432.8) scale(1.03 1)">15</text>
<text font-size="25.5" font-weight="bold" text-anchor="middle" fill="#000" transform="translate(1900.5500000000002 1432.8) scale(1.03 1)">30</text>
<text font-size="31.2" font-weight="bold" text-anchor="middle" fill="#000" transform="translate(1763.2 1136.4) scale(0.93 1)">Total Cer levels</text>
<text font-size="23.8" font-weight="bold" text-anchor="middle" fill="#000" transform="translate(1505 1285) rotate(-90) scale(1 1.12)">nmol/10<tspan font-size="20" dx="1" dy="-10.5">6</tspan><tspan dx="-2" dy="10.5"> cells</tspan></text>
<rect x="196.9" y="1731" width="40.19999999999999" height="49" fill="#000000"/>
<rect x="256.7" y="1743.7" width="40.30000000000001" height="36.299999999999955" fill="#9e9e9e"/>
<rect x="317.5" y="1741.4" width="40.19999999999999" height="38.59999999999991" fill="#828282"/>
<rect x="379.5" y="1743.5" width="40.19999999999999" height="36.5" fill="#d4d4d4"/>
<rect x="439.8" y="1728.5" width="40.39999999999998" height="51.5" fill="#646464"/>
<line x1="217.0" y1="1717.3" x2="217.0" y2="1731" stroke="#2a2a2a" stroke-width="2.4" stroke-linecap="butt"/>
<line x1="205.25" y1="1717.3" x2="228.75" y2="1717.3" stroke="#2a2a2a" stroke-width="2.4" stroke-linecap="butt"/>
<line x1="276.85" y1="1737.8" x2="276.85" y2="1743.7" stroke="#2a2a2a" stroke-width="2.4" stroke-linecap="butt"/>
<line x1="265.1" y1="1737.8" x2="288.6" y2="1737.8" stroke="#2a2a2a" stroke-width="2.4" stroke-linecap="butt"/>
<line x1="337.6" y1="1728.3" x2="337.6" y2="1741.4" stroke="#2a2a2a" stroke-width="2.4" stroke-linecap="butt"/>
<line x1="325.85" y1="1728.3" x2="349.35" y2="1728.3" stroke="#2a2a2a" stroke-width="2.4" stroke-linecap="butt"/>
<line x1="399.6" y1="1731" x2="399.6" y2="1743.5" stroke="#2a2a2a" stroke-width="2.4" stroke-linecap="butt"/>
<line x1="387.85" y1="1731" x2="411.35" y2="1731" stroke="#2a2a2a" stroke-width="2.4" stroke-linecap="butt"/>
<line x1="460.0" y1="1718" x2="460.0" y2="1728.5" stroke="#2a2a2a" stroke-width="2.4" stroke-linecap="butt"/>
<line x1="448.25" y1="1718" x2="471.75" y2="1718" stroke="#2a2a2a" stroke-width="2.4" stroke-linecap="butt"/>
<line x1="165" y1="1548" x2="165" y2="1781.5" stroke="#000" stroke-width="2.8" stroke-linecap="butt"/>
<line x1="159" y1="1780" x2="512" y2="1780" stroke="#000" stroke-width="3.2" stroke-linecap="butt"/>
<line x1="159" y1="1576" x2="165" y2="1576" stroke="#000" stroke-width="2.5" stroke-linecap="butt"/>
<text x="156.5" y="1583.6" font-size="23.5" font-weight="bold" text-anchor="end" fill="#000">8000</text>
<line x1="159" y1="1628.5" x2="165" y2="1628.5" stroke="#000" stroke-width="2.5" stroke-linecap="butt"/>
<text x="156.5" y="1636.1" font-size="23.5" font-weight="bold" text-anchor="end" fill="#000">6000</text>
<line x1="159" y1="1679.5" x2="165" y2="1679.5" stroke="#000" stroke-width="2.5" stroke-linecap="butt"/>
<text x="156.5" y="1687.1" font-size="23.5" font-weight="bold" text-anchor="end" fill="#000">4000</text>
<line x1="159" y1="1730" x2="165" y2="1730" stroke="#000" stroke-width="2.5" stroke-linecap="butt"/>
<text x="156.5" y="1737.6" font-size="23.5" font-weight="bold" text-anchor="end" fill="#000">2000</text>
<text x="156.5" y="1787.6" font-size="23.5" font-weight="bold" text-anchor="end" fill="#000">0</text>
<line x1="174" y1="1731.8" x2="515" y2="1731.8" stroke="#000" stroke-width="5" stroke-linecap="butt"/>
<line x1="216.2" y1="1780" x2="216.2" y2="1787.5" stroke="#000" stroke-width="2.8" stroke-linecap="butt"/>
<line x1="276.05" y1="1780" x2="276.05" y2="1787.5" stroke="#000" stroke-width="2.8" stroke-linecap="butt"/>
<line x1="336.8" y1="1780" x2="336.8" y2="1787.5" stroke="#000" stroke-width="2.8" stroke-linecap="butt"/>
<line x1="398.8" y1="1780" x2="398.8" y2="1787.5" stroke="#000" stroke-width="2.8" stroke-linecap="butt"/>
<line x1="459.2" y1="1780" x2="459.2" y2="1787.5" stroke="#000" stroke-width="2.8" stroke-linecap="butt"/>
<text font-size="25.5" font-weight="bold" text-anchor="middle" fill="#000" transform="translate(215.0 1812.5) scale(1.03 1)">0</text>
<text font-size="25.5" font-weight="bold" text-anchor="middle" fill="#000" transform="translate(274.85 1812.5) scale(1.03 1)">1</text>
<text font-size="25.5" font-weight="bold" text-anchor="middle" fill="#000" transform="translate(335.6 1812.5) scale(1.03 1)">5</text>
<text font-size="25.5" font-weight="bold" text-anchor="middle" fill="#000" transform="translate(397.6 1812.5) scale(1.03 1)">15</text>
<text font-size="25.5" font-weight="bold" text-anchor="middle" fill="#000" transform="translate(458.0 1812.5) scale(1.03 1)">30</text>
<text font-size="31.2" font-weight="normal" text-anchor="middle" fill="#000" transform="translate(336 1515.4) scale(0.935 1)" stroke="#000" stroke-width="0.7">C16</text>
<text font-size="23.8" font-weight="bold" text-anchor="middle" fill="#000" transform="translate(91.5 1665) rotate(-90) scale(1 1.12)">nmol/10<tspan font-size="20" dx="1" dy="-10.5">6</tspan><tspan dx="-2" dy="10.5"> cells</tspan></text>
<text x="47.5" y="1809.8" font-size="24.5" font-weight="bold" text-anchor="start" fill="#000">Time (min)</text>
<rect x="636.7" y="1661.5" width="50.5" height="118.79999999999995" fill="#000000"/>
<rect x="706.8" y="1679" width="50.5" height="101.29999999999995" fill="#9e9e9e"/>
<rect x="776.9" y="1676.5" width="49.60000000000002" height="103.79999999999995" fill="#828282"/>
<rect x="846.9" y="1671.5" width="50.60000000000002" height="108.79999999999995" fill="#d4d4d4"/>
<rect x="917" y="1632.5" width="49.799999999999955" height="147.79999999999995" fill="#646464"/>
<line x1="661.95" y1="1628" x2="661.95" y2="1661.5" stroke="#2a2a2a" stroke-width="2.4" stroke-linecap="butt"/>
<line x1="650.2" y1="1628" x2="673.7" y2="1628" stroke="#2a2a2a" stroke-width="2.4" stroke-linecap="butt"/>
<line x1="732.05" y1="1643.5" x2="732.05" y2="1679" stroke="#2a2a2a" stroke-width="2.4" stroke-linecap="butt"/>
<line x1="720.3" y1="1643.5" x2="743.8" y2="1643.5" stroke="#2a2a2a" stroke-width="2.4" stroke-linecap="butt"/>
<line x1="801.7" y1="1649.5" x2="801.7" y2="1676.5" stroke="#2a2a2a" stroke-width="2.4" stroke-linecap="butt"/>
<line x1="789.95" y1="1649.5" x2="813.45" y2="1649.5" stroke="#2a2a2a" stroke-width="2.4" stroke-linecap="butt"/>
<line x1="872.2" y1="1648" x2="872.2" y2="1671.5" stroke="#2a2a2a" stroke-width="2.4" stroke-linecap="butt"/>
<line x1="860.45" y1="1648" x2="883.95" y2="1648" stroke="#2a2a2a" stroke-width="2.4" stroke-linecap="butt"/>
<line x1="941.9" y1="1590.5" x2="941.9" y2="1632.5" stroke="#2a2a2a" stroke-width="2.4" stroke-linecap="butt"/>
<line x1="930.15" y1="1590.5" x2="953.65" y2="1590.5" stroke="#2a2a2a" stroke-width="2.4" stroke-linecap="butt"/>
<line x1="626.8" y1="1546" x2="626.8" y2="1781.8" stroke="#000" stroke-width="2.8" stroke-linecap="butt"/>
<line x1="620.2" y1="1780.3" x2="978.6" y2="1780.3" stroke="#000" stroke-width="3.2" stroke-linecap="butt"/>
<line x1="620.2" y1="1547" x2="626.8" y2="1547" stroke="#000" stroke-width="2.5" stroke-linecap="butt"/>
<text x="617" y="1554.6" font-size="23.5" font-weight="bold" text-anchor="end" fill="#000">5000</text>
<line x1="620.2" y1="1595" x2="626.8" y2="1595" stroke="#000" stroke-width="2.5" stroke-linecap="butt"/>
<text x="617" y="1602.6" font-size="23.5" font-weight="bold" text-anchor="end" fill="#000">4000</text>
<line x1="620.2" y1="1641.5" x2="626.8" y2="1641.5" stroke="#000" stroke-width="2.5" stroke-linecap="butt"/>
<text x="617" y="1649.1" font-size="23.5" font-weight="bold" text-anchor="end" fill="#000">3000</text>
<line x1="620.2" y1="1686.5" x2="626.8" y2="1686.5" stroke="#000" stroke-width="2.5" stroke-linecap="butt"/>
<text x="617" y="1694.1" font-size="23.5" font-weight="bold" text-anchor="end" fill="#000">2000</text>
<line x1="620.2" y1="1733.5" x2="626.8" y2="1733.5" stroke="#000" stroke-width="2.5" stroke-linecap="butt"/>
<text x="617" y="1741.1" font-size="23.5" font-weight="bold" text-anchor="end" fill="#000">1000</text>
<text x="617" y="1787.8999999999999" font-size="23.5" font-weight="bold" text-anchor="end" fill="#000">0</text>
<line x1="636.7" y1="1662.8" x2="978.6" y2="1662.8" stroke="#000" stroke-width="4.5" stroke-linecap="butt"/>
<line x1="661.1500000000001" y1="1780.3" x2="661.1500000000001" y2="1787.8" stroke="#000" stroke-width="2.8" stroke-linecap="butt"/>
<line x1="731.25" y1="1780.3" x2="731.25" y2="1787.8" stroke="#000" stroke-width="2.8" stroke-linecap="butt"/>
<line x1="800.9000000000001" y1="1780.3" x2="800.9000000000001" y2="1787.8" stroke="#000" stroke-width="2.8" stroke-linecap="butt"/>
<line x1="871.4000000000001" y1="1780.3" x2="871.4000000000001" y2="1787.8" stroke="#000" stroke-width="2.8" stroke-linecap="butt"/>
<line x1="941.1" y1="1780.3" x2="941.1" y2="1787.8" stroke="#000" stroke-width="2.8" stroke-linecap="butt"/>
<text font-size="25.5" font-weight="bold" text-anchor="middle" fill="#000" transform="translate(659.95 1812.5) scale(1.03 1)">0</text>
<text font-size="25.5" font-weight="bold" text-anchor="middle" fill="#000" transform="translate(730.05 1812.5) scale(1.03 1)">1</text>
<text font-size="25.5" font-weight="bold" text-anchor="middle" fill="#000" transform="translate(799.7 1812.5) scale(1.03 1)">5</text>
<text font-size="25.5" font-weight="bold" text-anchor="middle" fill="#000" transform="translate(870.2 1812.5) scale(1.03 1)">15</text>
<text font-size="25.5" font-weight="bold" text-anchor="middle" fill="#000" transform="translate(939.9 1812.5) scale(1.03 1)">30</text>
<text font-size="31.2" font-weight="normal" text-anchor="middle" fill="#000" transform="translate(800 1515.4) scale(0.935 1)" stroke="#000" stroke-width="0.7">C24</text>
<text font-size="23.8" font-weight="bold" text-anchor="middle" fill="#000" transform="translate(552.3 1665) rotate(-90) scale(1 1.12)">nmol/10<tspan font-size="20" dx="1" dy="-10.5">6</tspan><tspan dx="-2" dy="10.5"> cells</tspan></text>
<rect x="1118" y="1727.5" width="48.5" height="52.799999999999955" fill="#000000"/>
<rect x="1186.5" y="1736" width="49.5" height="44.299999999999955" fill="#9e9e9e"/>
<rect x="1256" y="1733.5" width="49" height="46.799999999999955" fill="#828282"/>
<rect x="1325" y="1736" width="49" height="44.299999999999955" fill="#d4d4d4"/>
<rect x="1394" y="1721.5" width="49" height="58.799999999999955" fill="#646464"/>
<line x1="1142.25" y1="1710" x2="1142.25" y2="1727.5" stroke="#2a2a2a" stroke-width="2.4" stroke-linecap="butt"/>
<line x1="1130.5" y1="1710" x2="1154.0" y2="1710" stroke="#2a2a2a" stroke-width="2.4" stroke-linecap="butt"/>
<line x1="1211.25" y1="1721.5" x2="1211.25" y2="1736" stroke="#2a2a2a" stroke-width="2.4" stroke-linecap="butt"/>
<line x1="1199.5" y1="1721.5" x2="1223.0" y2="1721.5" stroke="#2a2a2a" stroke-width="2.4" stroke-linecap="butt"/>
<line x1="1280.5" y1="1718" x2="1280.5" y2="1733.5" stroke="#2a2a2a" stroke-width="2.4" stroke-linecap="butt"/>
<line x1="1268.75" y1="1718" x2="1292.25" y2="1718" stroke="#2a2a2a" stroke-width="2.4" stroke-linecap="butt"/>
<line x1="1349.5" y1="1730" x2="1349.5" y2="1736" stroke="#2a2a2a" stroke-width="2.4" stroke-linecap="butt"/>
<line x1="1337.75" y1="1730" x2="1361.25" y2="1730" stroke="#2a2a2a" stroke-width="2.4" stroke-linecap="butt"/>
<line x1="1418.5" y1="1708.5" x2="1418.5" y2="1721.5" stroke="#2a2a2a" stroke-width="2.4" stroke-linecap="butt"/>
<line x1="1406.75" y1="1708.5" x2="1430.25" y2="1708.5" stroke="#2a2a2a" stroke-width="2.4" stroke-linecap="butt"/>
<line x1="1108" y1="1550.5" x2="1108" y2="1781.8" stroke="#000" stroke-width="2.8" stroke-linecap="butt"/>
<line x1="1101" y1="1780.3" x2="1453.5" y2="1780.3" stroke="#000" stroke-width="3.2" stroke-linecap="butt"/>
<line x1="1101" y1="1551.5" x2="1108" y2="1551.5" stroke="#000" stroke-width="2.5" stroke-linecap="butt"/>
<text x="1098" y="1559.1" font-size="23.5" font-weight="bold" text-anchor="end" fill="#000">6000</text>
<line x1="1101" y1="1628.3" x2="1108" y2="1628.3" stroke="#000" stroke-width="2.5" stroke-linecap="butt"/>
<text x="1098" y="1635.8999999999999" font-size="23.5" font-weight="bold" text-anchor="end" fill="#000">4000</text>
<line x1="1101" y1="1704.3" x2="1108" y2="1704.3" stroke="#000" stroke-width="2.5" stroke-linecap="butt"/>
<text x="1098" y="1711.8999999999999" font-size="23.5" font-weight="bold" text-anchor="end" fill="#000">2000</text>
<text x="1098" y="1787.8999999999999" font-size="23.5" font-weight="bold" text-anchor="end" fill="#000">0</text>
<line x1="1118" y1="1729" x2="1449" y2="1729" stroke="#000" stroke-width="3.5" stroke-linecap="butt"/>
<line x1="1141.45" y1="1780.3" x2="1141.45" y2="1787.8" stroke="#000" stroke-width="2.8" stroke-linecap="butt"/>
<line x1="1210.45" y1="1780.3" x2="1210.45" y2="1787.8" stroke="#000" stroke-width="2.8" stroke-linecap="butt"/>
<line x1="1279.7" y1="1780.3" x2="1279.7" y2="1787.8" stroke="#000" stroke-width="2.8" stroke-linecap="butt"/>
<line x1="1348.7" y1="1780.3" x2="1348.7" y2="1787.8" stroke="#000" stroke-width="2.8" stroke-linecap="butt"/>
<line x1="1417.7" y1="1780.3" x2="1417.7" y2="1787.8" stroke="#000" stroke-width="2.8" stroke-linecap="butt"/>
<text font-size="25.5" font-weight="bold" text-anchor="middle" fill="#000" transform="translate(1140.25 1812.5) scale(1.03 1)">0</text>
<text font-size="25.5" font-weight="bold" text-anchor="middle" fill="#000" transform="translate(1209.25 1812.5) scale(1.03 1)">1</text>
<text font-size="25.5" font-weight="bold" text-anchor="middle" fill="#000" transform="translate(1278.5 1812.5) scale(1.03 1)">5</text>
<text font-size="25.5" font-weight="bold" text-anchor="middle" fill="#000" transform="translate(1347.5 1812.5) scale(1.03 1)">15</text>
<text font-size="25.5" font-weight="bold" text-anchor="middle" fill="#000" transform="translate(1416.5 1812.5) scale(1.03 1)">30</text>
<text font-size="31.2" font-weight="bold" text-anchor="middle" fill="#000" transform="translate(1278.5 1515.4) scale(0.93 1)">C24:1</text>
<text font-size="23.8" font-weight="bold" text-anchor="middle" fill="#000" transform="translate(1033.6 1665) rotate(-90) scale(1 1.12)">nmol/10<tspan font-size="20" dx="1" dy="-10.5">6</tspan><tspan dx="-2" dy="10.5"> cells</tspan></text>
<rect x="1601.8" y="1695.5" width="48.5" height="85.0" fill="#000000"/>
<rect x="1670.2" y="1709.5" width="49.799999999999955" height="71.0" fill="#9e9e9e"/>
<rect x="1739.2" y="1706.5" width="49.799999999999955" height="74.0" fill="#828282"/>
<rect x="1808.3" y="1709" width="50.0" height="71.5" fill="#d4d4d4"/>
<rect x="1877.4" y="1682.5" width="50.299999999999955" height="98.0" fill="#646464"/>
<line x1="1626.05" y1="1671.8" x2="1626.05" y2="1695.5" stroke="#2a2a2a" stroke-width="2.4" stroke-linecap="butt"/>
<line x1="1614.3" y1="1671.8" x2="1637.8" y2="1671.8" stroke="#2a2a2a" stroke-width="2.4" stroke-linecap="butt"/>
<line x1="1695.1" y1="1690.3" x2="1695.1" y2="1709.5" stroke="#2a2a2a" stroke-width="2.4" stroke-linecap="butt"/>
<line x1="1683.35" y1="1690.3" x2="1706.85" y2="1690.3" stroke="#2a2a2a" stroke-width="2.4" stroke-linecap="butt"/>
<line x1="1764.1" y1="1687.5" x2="1764.1" y2="1706.5" stroke="#2a2a2a" stroke-width="2.4" stroke-linecap="butt"/>
<line x1="1752.35" y1="1687.5" x2="1775.85" y2="1687.5" stroke="#2a2a2a" stroke-width="2.4" stroke-linecap="butt"/>
<line x1="1833.3" y1="1696" x2="1833.3" y2="1709" stroke="#2a2a2a" stroke-width="2.4" stroke-linecap="butt"/>
<line x1="1821.55" y1="1696" x2="1845.05" y2="1696" stroke="#2a2a2a" stroke-width="2.4" stroke-linecap="butt"/>
<line x1="1902.5500000000002" y1="1664" x2="1902.5500000000002" y2="1682.5" stroke="#2a2a2a" stroke-width="2.4" stroke-linecap="butt"/>
<line x1="1890.8000000000002" y1="1664" x2="1914.3000000000002" y2="1664" stroke="#2a2a2a" stroke-width="2.4" stroke-linecap="butt"/>
<line x1="1591.2" y1="1551" x2="1591.2" y2="1782.0" stroke="#000" stroke-width="2.8" stroke-linecap="butt"/>
<line x1="1584.4" y1="1780.5" x2="1937.5" y2="1780.5" stroke="#000" stroke-width="3.2" stroke-linecap="butt"/>
<line x1="1584.4" y1="1552" x2="1591.2" y2="1552" stroke="#000" stroke-width="2.5" stroke-linecap="butt"/>
<text x="1580.8" y="1559.6" font-size="23.5" font-weight="bold" text-anchor="end" fill="#000">25000</text>
<line x1="1584.4" y1="1597" x2="1591.2" y2="1597" stroke="#000" stroke-width="2.5" stroke-linecap="butt"/>
<text x="1580.8" y="1604.6" font-size="23.5" font-weight="bold" text-anchor="end" fill="#000">20000</text>
<line x1="1584.4" y1="1643.5" x2="1591.2" y2="1643.5" stroke="#000" stroke-width="2.5" stroke-linecap="butt"/>
<text x="1580.8" y="1651.1" font-size="23.5" font-weight="bold" text-anchor="end" fill="#000">15000</text>
<line x1="1584.4" y1="1688.5" x2="1591.2" y2="1688.5" stroke="#000" stroke-width="2.5" stroke-linecap="butt"/>
<text x="1580.8" y="1696.1" font-size="23.5" font-weight="bold" text-anchor="end" fill="#000">10000</text>
<line x1="1584.4" y1="1735" x2="1591.2" y2="1735" stroke="#000" stroke-width="2.5" stroke-linecap="butt"/>
<text x="1580.8" y="1742.6" font-size="23.5" font-weight="bold" text-anchor="end" fill="#000">5000</text>
<text x="1580.8" y="1788.1" font-size="23.5" font-weight="bold" text-anchor="end" fill="#000">0</text>
<line x1="1601.8" y1="1696.4" x2="1936" y2="1696.4" stroke="#000" stroke-width="4" stroke-linecap="butt"/>
<line x1="1625.25" y1="1780.5" x2="1625.25" y2="1788.0" stroke="#000" stroke-width="2.8" stroke-linecap="butt"/>
<line x1="1694.3" y1="1780.5" x2="1694.3" y2="1788.0" stroke="#000" stroke-width="2.8" stroke-linecap="butt"/>
<line x1="1763.3" y1="1780.5" x2="1763.3" y2="1788.0" stroke="#000" stroke-width="2.8" stroke-linecap="butt"/>
<line x1="1832.5" y1="1780.5" x2="1832.5" y2="1788.0" stroke="#000" stroke-width="2.8" stroke-linecap="butt"/>
<line x1="1901.7500000000002" y1="1780.5" x2="1901.7500000000002" y2="1788.0" stroke="#000" stroke-width="2.8" stroke-linecap="butt"/>
<text font-size="25.5" font-weight="bold" text-anchor="middle" fill="#000" transform="translate(1624.05 1812.5) scale(1.03 1)">0</text>
<text font-size="25.5" font-weight="bold" text-anchor="middle" fill="#000" transform="translate(1693.1 1812.5) scale(1.03 1)">1</text>
<text font-size="25.5" font-weight="bold" text-anchor="middle" fill="#000" transform="translate(1762.1 1812.5) scale(1.03 1)">5</text>
<text font-size="25.5" font-weight="bold" text-anchor="middle" fill="#000" transform="translate(1831.3 1812.5) scale(1.03 1)">15</text>
<text font-size="25.5" font-weight="bold" text-anchor="middle" fill="#000" transform="translate(1900.5500000000002 1812.5) scale(1.03 1)">30</text>
<text font-size="31.2" font-weight="bold" text-anchor="middle" fill="#000" transform="translate(1763.2 1515.4) scale(0.93 1)">Total Cer levels</text>
<text font-size="23.8" font-weight="bold" text-anchor="middle" fill="#000" transform="translate(1505 1665) rotate(-90) scale(1 1.12)">nmol/10<tspan font-size="20" dx="1" dy="-10.5">6</tspan><tspan dx="-2" dy="10.5"> cells</tspan></text>
<text font-size="36.2" font-weight="normal" text-anchor="middle" fill="#000" transform="translate(48 1277.5) rotate(-90) scale(1 1.08)" stroke="#000" stroke-width="1.4" style="font-kerning:none">CAV1 (+)</text>
<text font-size="36.2" font-weight="normal" text-anchor="middle" fill="#000" transform="translate(43.8 1662) rotate(-90) scale(1 1.08)" stroke="#000" stroke-width="1.4" style="font-kerning:none">CAV1 (-)</text>
</g>
</svg>
</body>
</html>
